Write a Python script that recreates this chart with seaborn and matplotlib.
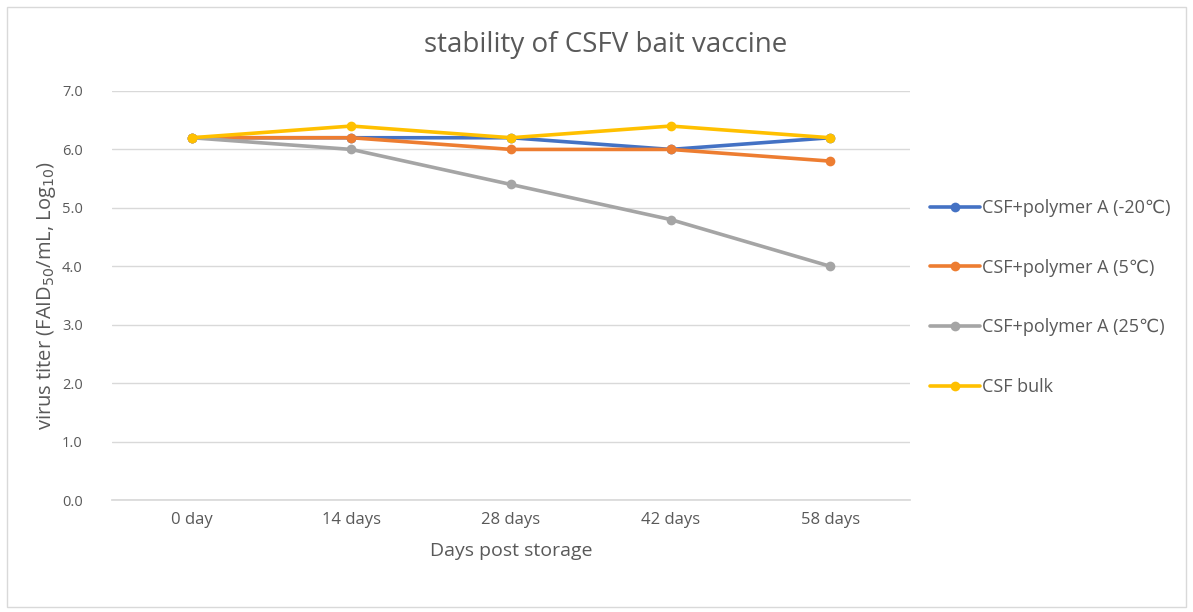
import matplotlib
matplotlib.use("Agg")
import matplotlib.pyplot as plt
import seaborn as sns
import pandas as pd
from matplotlib.patches import Rectangle

categories = ["0 day", "14 days", "28 days", "42 days", "58 days"]
series_names = ["CSF+polymer A (-20\u2103)", "CSF+polymer A (5\u2103)",
                "CSF+polymer A (25\u2103)", "CSF bulk"]
vals_m20 = [6.2, 6.2, 6.2, 6.0, 6.2]
vals_5 = [6.2, 6.2, 6.0, 6.0, 5.8]
vals_25 = [6.2, 6.0, 5.4, 4.8, 4.0]
vals_bulk = [6.2, 6.4, 6.2, 6.4, 6.2]
yticks = [0.0, 1.0, 2.0, 3.0, 4.0, 5.0, 6.0, 7.0]
colors = ["#4472C4", "#ED7D31", "#A5A5A5", "#FFC000"]

rows = []
for name, vals in zip(series_names, [vals_m20, vals_5, vals_25, vals_bulk]):
    for c, v in zip(categories, vals):
        rows.append({"day": c, "titer": v, "series": name})
df = pd.DataFrame(rows)

sns.set_theme(style="white")
plt.rcParams["font.family"] = ["Open Sans", "DejaVu Sans"]

fig = plt.figure(figsize=(11.93, 6.12), dpi=100)
ax = fig.add_axes([112 / 1193, 1 - 500 / 612, (910 - 112) / 1193, (500 - 91) / 612])

sns.lineplot(data=df, x="day", y="titer", hue="series", palette=colors,
             marker="o", markersize=7, markeredgewidth=0, linewidth=2.6,
             dashes=False, sort=False, ax=ax)

ax.set_xlim(-0.5, 4.5)
ax.set_ylim(0, 7.0)
ax.set_yticks(yticks)
ax.set_yticklabels([f"{t:.1f}" for t in yticks], color="#595959", fontsize=10.5)
ax.set_xticks(range(len(categories)))
ax.set_xticklabels(categories, color="#595959", fontsize=12)
ax.tick_params(axis="y", length=0, pad=21)
ax.tick_params(axis="x", length=0, pad=9)
ax.grid(axis="y", color="#D9D9D9", linewidth=1)
ax.set_axisbelow(True)
for s in ["top", "right", "left"]:
    ax.spines[s].set_visible(False)
ax.spines["bottom"].set_color("#D9D9D9")

ax.set_xlabel("Days post storage", color="#595959", fontsize=14, labelpad=10)
ax.set_ylabel("virus titer (FAID$_{50}$/mL, Log$_{10}$)", color="#595959", fontsize=14.5, labelpad=3)
fig.text(0.5075, 1 - 45 / 612, "stability of CSFV bait vaccine", ha="center", va="center",
         fontsize=20, color="#595959")

leg = ax.legend(loc="center left", frameon=False,
                labelspacing=2.31, handlelength=2.77, handletextpad=0.1,
                fontsize=13, borderaxespad=0.0, borderpad=0.0)
leg.set_bbox_to_anchor((1 + 20 / 798, 1 - (297.5 - 91) / 409), transform=ax.transAxes)
for t in leg.get_texts():
    t.set_color("#595959")

fig.patches.append(Rectangle((7 / 1193, 5 / 612), 1 - 14 / 1193, 1 - 12 / 612,
                             transform=fig.transFigure, fill=False,
                             edgecolor="#D9D9D9", linewidth=1))
fig.savefig("out.png", dpi=100, facecolor="white")
